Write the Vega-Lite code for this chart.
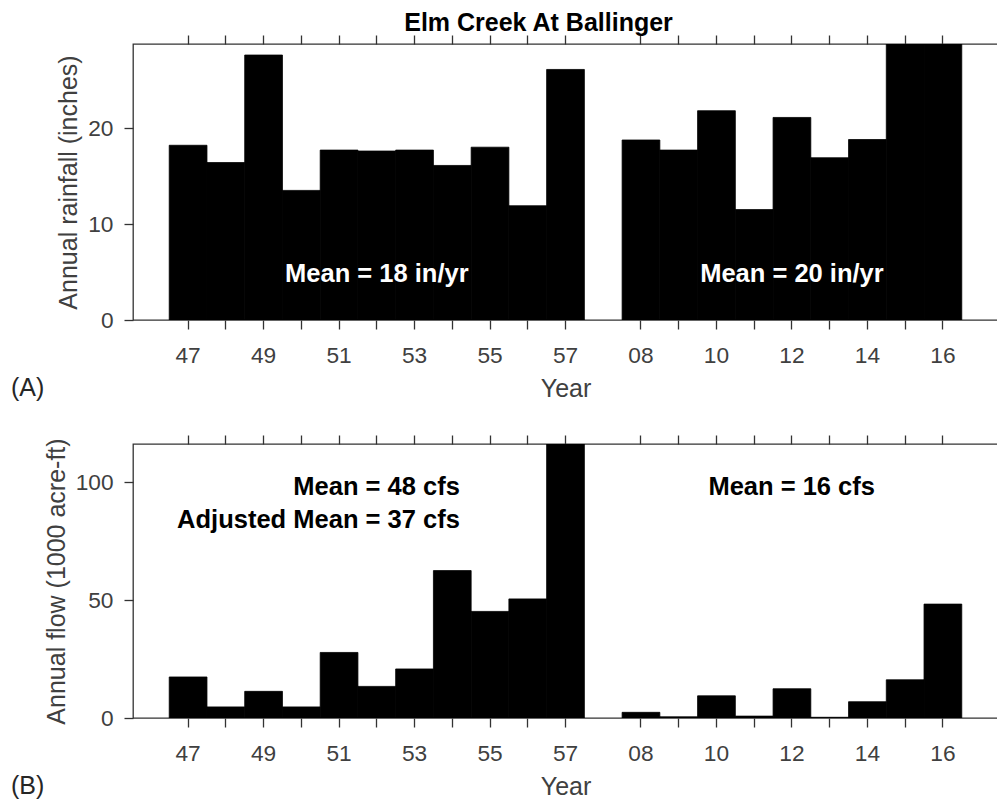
{
  "$schema": "https://vega.github.io/schema/vega-lite/v6.json",
  "padding": {"left": 10, "top": 10, "right": 0, "bottom": 0},
  "background": "white",
  "title": {"text": "Elm Creek At Ballinger", "font": "Liberation Sans", "fontSize": 25, "fontWeight": "bold", "color": "#000000", "anchor": "middle", "frame": "group", "offset": -2, "dx": -27},
  "datasets": {
    "rain": [
      {"year": "47", "rain": 18.2}, {"year": "48", "rain": 16.4}, {"year": "49", "rain": 27.6},
      {"year": "50", "rain": 13.5}, {"year": "51", "rain": 17.7}, {"year": "52", "rain": 17.6},
      {"year": "53", "rain": 17.7}, {"year": "54", "rain": 16.1}, {"year": "55", "rain": 18.0},
      {"year": "56", "rain": 11.9}, {"year": "57", "rain": 26.1},
      {"year": "08", "rain": 18.75}, {"year": "09", "rain": 17.7}, {"year": "10", "rain": 21.8},
      {"year": "11", "rain": 11.5}, {"year": "12", "rain": 21.1}, {"year": "13", "rain": 16.9},
      {"year": "14", "rain": 18.8}, {"year": "15", "rain": 30.0}, {"year": "16", "rain": 29.5}
    ],
    "flow": [
      {"year": "47", "flow": 17.4}, {"year": "48", "flow": 4.7}, {"year": "49", "flow": 11.3},
      {"year": "50", "flow": 4.7}, {"year": "51", "flow": 27.8}, {"year": "52", "flow": 13.4},
      {"year": "53", "flow": 20.8}, {"year": "54", "flow": 62.5}, {"year": "55", "flow": 45.2},
      {"year": "56", "flow": 50.5}, {"year": "57", "flow": 125.0},
      {"year": "08", "flow": 2.4}, {"year": "09", "flow": 0.5}, {"year": "10", "flow": 9.4},
      {"year": "11", "flow": 0.8}, {"year": "12", "flow": 12.4}, {"year": "13", "flow": 0.3},
      {"year": "14", "flow": 6.9}, {"year": "15", "flow": 16.2}, {"year": "16", "flow": 48.3}
    ],
    "rainNotes": [
      {"year": "52", "rain": 4.8, "label": "Mean = 18 in/yr"},
      {"year": "12", "rain": 4.8, "label": "Mean = 20 in/yr"}
    ],
    "flowNotes": [
      {"year": "54", "flow": 98.0, "label": "Mean = 48 cfs"},
      {"year": "54", "flow": 84.0, "label": "Adjusted Mean = 37 cfs"},
      {"year": "14", "flow": 98.0, "label": "Mean = 16 cfs"}
    ]
  },
  "config": {
    "font": "Liberation Sans",
    "view": {"stroke": "#333333", "strokeWidth": 1.3},
    "axis": {
      "domain": false,
      "grid": false,
      "tickColor": "#333333",
      "tickWidth": 1.3,
      "tickSize": 9,
      "labelFont": "Liberation Sans",
      "labelFontSize": 22.7,
      "labelColor": "#404040",
      "titleFont": "Liberation Sans",
      "titleFontSize": 25,
      "titleFontWeight": "normal",
      "titleColor": "#404040"
    },
    "axisY": {"labelPadding": 11, "titlePadding": 6},
    "axisX": {"labelPadding": 15, "titlePadding": 10, "labelAngle": 0}
  },
  "bounds": "flush",
  "spacing": 124,
  "vconcat": [
    {
      "width": 865,
      "height": 276,
      "title": {"text": "(A)", "orient": "bottom", "anchor": "start", "frame": "group", "dx": -122, "offset": -26, "fontSize": 25, "fontWeight": "normal", "color": "#262626"},
      "resolve": {"axis": {"x": "independent"}},
      "layer": [
        {
          "data": {"name": "rain"},
          "mark": {"type": "bar", "color": "#000000", "stroke": "#000000", "strokeWidth": 0.8, "clip": true},
          "encoding": {
            "x": {
              "field": "year", "type": "ordinal",
              "scale": {"domain": ["47","48","49","50","51","52","53","54","55","56","57","gap","08","09","10","11","12","13","14","15","16"], "paddingInner": 0, "paddingOuter": 0.96},
              "axis": {"orient": "bottom", "title": "Year",
                "values": ["47","48","49","50","51","52","53","54","55","56","57","08","09","10","11","12","13","14","15","16"],
                "labelExpr": "indexof(['47','49','51','53','55','57','08','10','12','14','16'], datum.value) >= 0 ? datum.value : ''"}
            },
            "y": {
              "field": "rain", "type": "quantitative",
              "scale": {"domain": [0, 28.75], "nice": false, "zero": true},
              "axis": {"values": [0, 10, 20], "title": "Annual rainfall (inches)"}
            }
          }
        },
        {
          "data": {"name": "rainNotes"},
          "mark": {"type": "text", "color": "#ffffff", "fontWeight": "bold", "fontSize": 25.5, "align": "center", "baseline": "middle"},
          "encoding": {
            "x": {
              "field": "year", "type": "ordinal",
              "axis": {"orient": "top", "title": null, "labels": false,
                "values": ["47","48","49","50","51","52","53","54","55","56","57","08","09","10","11","12","13","14","15","16"]}
            },
            "y": {"field": "rain", "type": "quantitative", "axis": {"values": [0, 10, 20], "title": "Annual rainfall (inches)"}},
            "text": {"field": "label"}
          }
        }
      ]
    },
    {
      "width": 865,
      "height": 274,
      "title": {"text": "(B)", "orient": "bottom", "anchor": "start", "frame": "group", "dx": -122, "offset": -26, "fontSize": 25, "fontWeight": "normal", "color": "#262626"},
      "resolve": {"axis": {"x": "independent"}},
      "layer": [
        {
          "data": {"name": "flow"},
          "mark": {"type": "bar", "color": "#000000", "stroke": "#000000", "strokeWidth": 0.8, "clip": true},
          "encoding": {
            "x": {
              "field": "year", "type": "ordinal",
              "scale": {"domain": ["47","48","49","50","51","52","53","54","55","56","57","gap","08","09","10","11","12","13","14","15","16"], "paddingInner": 0, "paddingOuter": 0.96},
              "axis": {"orient": "bottom", "title": "Year",
                "values": ["47","48","49","50","51","52","53","54","55","56","57","08","09","10","11","12","13","14","15","16"],
                "labelExpr": "indexof(['47','49','51','53','55','57','08','10','12','14','16'], datum.value) >= 0 ? datum.value : ''"}
            },
            "y": {
              "field": "flow", "type": "quantitative",
              "scale": {"domain": [0, 116.2], "nice": false, "zero": true},
              "axis": {"values": [0, 50, 100], "title": "Annual flow (1000 acre-ft)"}
            }
          }
        },
        {
          "data": {"name": "flowNotes"},
          "mark": {"type": "text", "color": "#000000", "fontWeight": "bold", "fontSize": 25.5, "align": "right", "baseline": "middle"},
          "encoding": {
            "x": {
              "field": "year", "type": "ordinal", "bandPosition": 0.7,
              "axis": {"orient": "top", "title": null, "labels": false,
                "values": ["47","48","49","50","51","52","53","54","55","56","57","08","09","10","11","12","13","14","15","16"]}
            },
            "y": {"field": "flow", "type": "quantitative", "axis": {"values": [0, 50, 100], "title": "Annual flow (1000 acre-ft)"}},
            "text": {"field": "label"}
          }
        }
      ]
    }
  ]
}
